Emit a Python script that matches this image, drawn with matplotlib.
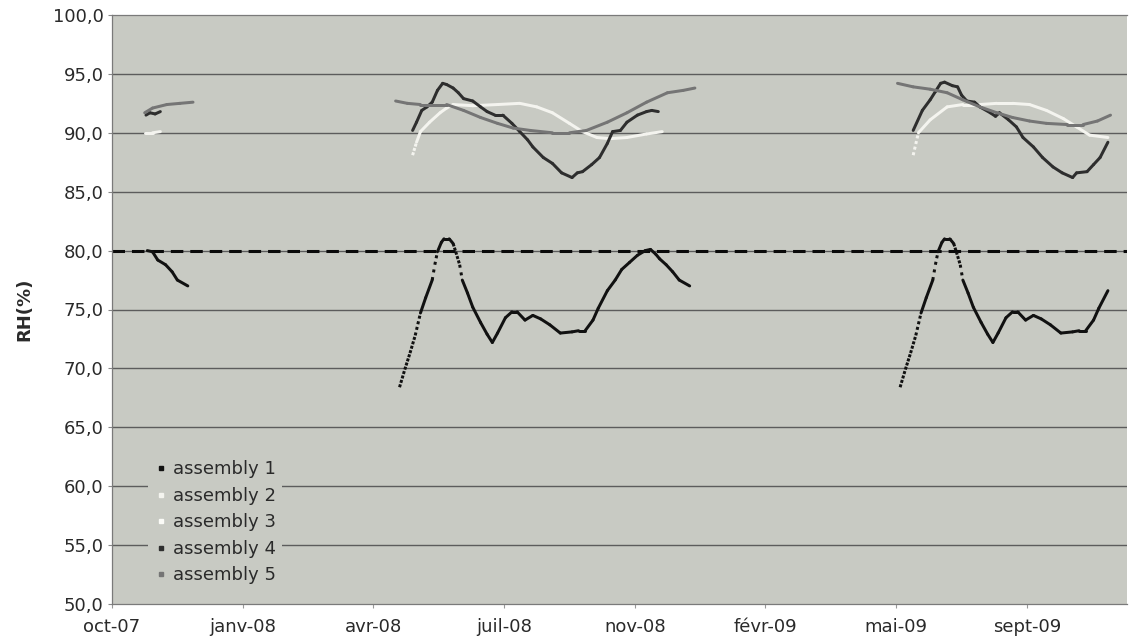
import numpy as np
import matplotlib
matplotlib.use("Agg")
import matplotlib.pyplot as plt
from matplotlib.collections import LineCollection
from matplotlib.lines import Line2D

plt.rcParams["font.family"] = ["DejaVu Sans"]
plt.rcParams["lines.scale_dashes"] = False

nan = np.nan

# x positions: days counted from the first axis date (oct-07); nan separates seasons
tick_days = [0, 100, 200, 300, 400, 500, 600, 700]
tick_labels = ["oct-07", "janv-08", "avr-08", "juil-08", "nov-08",
               "févr-09", "mai-09", "sept-09"]
y_ticks = [50, 55, 60, 65, 70, 75, 80, 85, 90, 95, 100]
series_names = ["assembly 1", "assembly 2", "assembly 3", "assembly 4", "assembly 5"]
rh_limit = 80.0

asm1_day = [27, 31, 35, 41, 46, 50, 58, nan,
            220, 224, 228, 232, 236, 240, 245, 247, 249, 252, 254, 258, 261, 263,
            266, 268, 272, 276, 282, 287, 291, 295, 301, 306, 310, 316, 322, 328,
            335, 343, 352, 357, 362, 368, 372, 379, 385, 390, 396, 402, 408, 412,
            416, 419, 424, 429, 434, 442, nan,
            603, 607, 611, 615, 619, 623, 628, 630, 632, 635, 637, 641, 644, 646,
            649, 651, 655, 659, 665, 670, 674, 678, 684, 689, 693, 699, 705, 711,
            718, 726, 735, 740, 745, 751, 755, 762]
asm1_rh = [80.0, 79.9, 79.2, 78.8, 78.2, 77.5, 77.0, nan,
           68.4, 69.9, 71.3, 72.8, 74.7, 76.0, 77.5, 78.8, 79.9, 80.7, 81.0, 81.0, 80.6, 79.9,
           78.8, 77.5, 76.4, 75.2, 73.9, 72.9, 72.2, 73.0, 74.3, 74.8, 74.8, 74.1, 74.5, 74.2,
           73.7, 73.0, 73.1, 73.2, 73.2, 74.1, 75.1, 76.6, 77.5, 78.4, 79.0, 79.6, 80.0, 80.1,
           79.7, 79.3, 78.8, 78.2, 77.5, 77.0, nan,
           68.4, 69.9, 71.3, 72.8, 74.7, 76.0, 77.5, 78.8, 79.9, 80.7, 81.0, 81.0, 80.6, 79.9,
           78.8, 77.5, 76.4, 75.2, 73.9, 72.9, 72.2, 73.0, 74.3, 74.8, 74.8, 74.1, 74.5, 74.2,
           73.7, 73.0, 73.1, 73.2, 73.2, 74.1, 75.1, 76.6]

asm2_day = [25, 31, 37, nan,
            230, 233, 236, 243, 251, 256, 261, 276, 295, 312, 325, 337, 350, 360,
            371, 381, 394, 409, 421, nan,
            613, 617, 626, 639, 651, 664, 677, 689, 702, 715, 728, 738, 748, 762]
asm2_rh = [90.0, 90.0, 90.1, nan,
           88.1, 89.2, 90.1, 90.9, 91.7, 92.1, 92.4, 92.3, 92.4, 92.5, 92.2, 91.7, 90.8, 90.1,
           89.6, 89.5, 89.6, 89.9, 90.1, nan,
           88.1, 90.0, 91.1, 92.2, 92.4, 92.4, 92.5, 92.5, 92.4, 91.9, 91.2, 90.5, 89.8, 89.6]

asm3_day = []
asm3_rh = []

asm4_day = [26, 29, 33, 37, nan,
            230, 233, 237, 241, 245, 249, 253, 256, 261, 265, 269, 276, 282, 287,
            293, 299, 306, 312, 318, 322, 330, 337, 344, 352, 356, 360, 367, 373,
            379, 383, 389, 394, 402, 409, 413, 418, nan,
            613, 620, 626, 630, 634, 637, 643, 647, 650, 654, 660, 664, 672, 676,
            679, 686, 692, 697, 705, 712, 720, 727, 735, 738, 746, 751, 756, 762]
asm4_rh = [91.5, 91.7, 91.6, 91.8, nan,
           90.2, 90.9, 91.9, 92.2, 92.6, 93.6, 94.2, 94.1, 93.8, 93.4, 92.9, 92.7, 92.2, 91.8,
           91.5, 91.5, 90.8, 90.1, 89.4, 88.8, 87.9, 87.4, 86.6, 86.2, 86.6, 86.7, 87.3, 87.9,
           89.1, 90.1, 90.2, 90.9, 91.5, 91.8, 91.9, 91.8, nan,
           90.2, 91.9, 92.8, 93.5, 94.2, 94.3, 94.0, 93.9, 93.2, 92.7, 92.6, 92.2, 91.7, 91.4,
           91.7, 91.1, 90.5, 89.6, 88.8, 87.9, 87.1, 86.6, 86.2, 86.6, 86.7, 87.3, 87.9, 89.2]

asm5_day = [25, 31, 42, 52, 62, nan,
            217, 226, 236, 256, 269, 282, 295, 307, 320, 337, 350, 363, 379, 394,
            409, 425, 437, 446, nan,
            601, 613, 626, 639, 651, 664, 677, 689, 702, 715, 731, 743, 754, 764]
asm5_rh = [91.7, 92.1, 92.4, 92.5, 92.6, nan,
           92.7, 92.5, 92.4, 92.4, 91.9, 91.3, 90.8, 90.4, 90.2, 90.0, 90.0, 90.2, 90.9, 91.7,
           92.6, 93.4, 93.6, 93.8, nan,
           94.2, 93.9, 93.7, 93.4, 92.8, 92.2, 91.7, 91.3, 91.0, 90.8, 90.7, 90.7, 91.0, 91.5]

series_days = [asm1_day, asm2_day, asm3_day, asm4_day, asm5_day]
series_rh = [asm1_rh, asm2_rh, asm3_rh, asm4_rh, asm5_rh]
series_colors = ["#111111", "#f4f4ef", "#fbfbf7", "#2e2e2e", "#757575"]

BG = "#c8cac3"
TEXT = "#2a2a2a"
GRID = "#5c5c5c"

fig = plt.figure(figsize=(11.34, 6.41), dpi=100)
fig.patch.set_facecolor("white")
ax = fig.add_axes([112 / 1134, 1 - 604 / 641, 1015 / 1134, 589 / 641])
ax.set_facecolor(BG)
ax.set_xlim(0, 776.6)
ax.set_ylim(50, 100)

for v in y_ticks:
    if v in (50, 100):
        continue
    ax.axhline(v, color=GRID, lw=1.0, zorder=1)

ax.axhline(rh_limit, color="#0a0a0a", lw=2.2, ls=(0, (9, 5)), zorder=2)


def draw_daily(days, rh, color, lw_px, z):
    """Draw a daily-sampled series: steep stretches break up into separate dots."""
    days = np.asarray(days, dtype=float)
    rh = np.asarray(rh, dtype=float)
    if days.size == 0:
        return
    breaks = np.where(np.isnan(days))[0]
    starts = np.r_[0, breaks + 1]
    ends = np.r_[breaks, days.size]
    solid, dotted, dot_styles = [], [], []
    lw_pt = lw_px * 72 / fig.dpi
    for s, e in zip(starts, ends):
        d, r = days[s:e], rh[s:e]
        pts = ax.transData.transform(np.column_stack([d, r]))
        for i in range(len(d) - 1):
            seg = [(d[i], r[i]), (d[i + 1], r[i + 1])]
            length = np.hypot(*(pts[i + 1] - pts[i]))
            step = length / max(d[i + 1] - d[i], 1e-6)
            if step > lw_px + 1.2:
                dotted.append(seg)
                gap = (step - lw_px) * 72 / fig.dpi
                dot_styles.append((0, (lw_pt, gap)))
            else:
                solid.append(seg)
    if solid:
        ax.add_collection(LineCollection(solid, colors=color, linewidths=lw_pt,
                                         capstyle="round", zorder=z))
    if dotted:
        ax.add_collection(LineCollection(dotted, colors=color, linewidths=lw_pt,
                                         linestyles=dot_styles, capstyle="butt", zorder=z))


for k, (d, r, c) in enumerate(zip(series_days, series_rh, series_colors)):
    draw_daily(d, r, c, 3.0, 3 + k)

ax.set_yticks(y_ticks)
ax.set_yticklabels([f"{v:.1f}".replace(".", ",") for v in y_ticks])
ax.set_xticks(tick_days)
ax.set_xticklabels(tick_labels)
ax.tick_params(axis="y", length=3, color="#888888", pad=3, labelsize=13, labelcolor=TEXT)
ax.tick_params(axis="x", length=3, color="#999999", pad=7, labelsize=13, labelcolor=TEXT)

for side in ("left", "top", "bottom"):
    ax.spines[side].set_color("#7a7a7a")
    ax.spines[side].set_linewidth(0.9)
ax.spines["right"].set_visible(False)

ax.set_ylabel("RH(%)", fontsize=13, fontweight="bold", color=TEXT, labelpad=14)

handles = [Line2D([], [], ls="none", marker="s", ms=3, color=c, mec=c)
           for c in series_colors]
leg = ax.legend(handles, series_names, loc="upper left",
                bbox_to_anchor=(0.0355, 0.253), frameon=True, fancybox=False,
                facecolor=BG, edgecolor="none", framealpha=1.0, fontsize=13,
                handlelength=0.8, handletextpad=0.3, labelspacing=0.47,
                borderpad=0.3, borderaxespad=0.0)
for t in leg.get_texts():
    t.set_color(TEXT)
leg.set_zorder(10)

fig.savefig("out.png", dpi=100, facecolor="white")
